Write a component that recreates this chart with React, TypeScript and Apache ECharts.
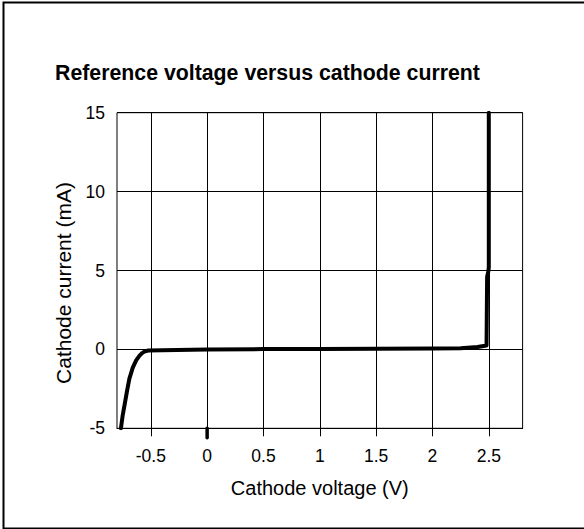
import React, { useEffect, useRef } from "react";
import * as echarts from "echarts";

const titleText = "Reference voltage versus cathode current";
const xName = "Cathode voltage (V)";
const yName = "Cathode current (mA)";

const xTicks = [-0.5, 0, 0.5, 1, 1.5, 2, 2.5];
const yTicks = [-5, 0, 5, 10, 15];

const voltage = [-0.765, -0.75, -0.73, -0.71, -0.69, -0.66, -0.63, -0.6, -0.575, -0.55, -0.52, -0.4, 0, 0.5, 1, 1.5, 2, 2.25, 2.4, 2.48, 2.485, 2.495, 2.5, 2.5];
const current = [-5, -4.2, -3.4, -2.6, -1.85, -1.15, -0.7, -0.4, -0.22, -0.12, -0.07, -0.05, 0, 0.02, 0.03, 0.04, 0.06, 0.08, 0.15, 0.25, 4.6, 4.9, 5.2, 15];

const blipVoltage = [0, 0];
const blipCurrent = [-5, -5.6];

const FONT = "'Liberation Sans', Arial, sans-serif";

export default function App() {
  const ref = useRef<HTMLDivElement>(null);
  useEffect(() => {
    if (!ref.current) return;
    const chart = echarts.init(ref.current, null, { renderer: "svg" });
    const mainData = voltage.map((v, i) => [v, current[i]]);
    const blipData = blipVoltage.map((v, i) => [v, blipCurrent[i]]);
    chart.setOption({
      animation: false,
      backgroundColor: "#fff",
      textStyle: { fontFamily: FONT },
      title: {
        text: titleText,
        left: 50,
        top: 57,
        textStyle: { fontSize: 21.3, fontWeight: "bold", color: "#000", fontFamily: FONT },
      },
      graphic: [
        {
          type: "rect",
          shape: { x: 3.5, y: 2.5, width: 600, height: 526 },
          style: { fill: "none", stroke: "#000", lineWidth: 2 },
          silent: true,
        },
        {
          type: "text",
          x: 63.5,
          y: 283,
          rotation: Math.PI / 2,
          silent: true,
          style: {
            text: yName,
            fill: "#000",
            font: "21px 'Liberation Sans', Arial, sans-serif",
            align: "center",
            verticalAlign: "middle",
          },
        },
      ],
      grid: {
        left: 117,
        top: 112.7,
        width: 405.6,
        height: 315.6,
        show: true,
        borderColor: "#000",
        borderWidth: 1,
        containLabel: false,
      },
      xAxis: {
        type: "value",
        min: -0.8,
        max: 2.8,
        splitNumber: 7,
        name: xName,
        nameLocation: "middle",
        nameGap: 50,
        nameTextStyle: { fontSize: 20, color: "#000", fontFamily: FONT },
        axisLine: { show: true, onZero: false, lineStyle: { color: "#000", width: 1 } },
        axisTick: { show: true, length: 8, customValues: xTicks, lineStyle: { color: "#000", width: 1 } },
        axisLabel: {
          customValues: xTicks,
          margin: 19,
          fontSize: 17.5,
          color: "#000",
          fontFamily: FONT,
        },
        splitLine: { show: true, lineStyle: { color: "#000", width: 1 } },
      },
      yAxis: {
        type: "value",
        min: -5,
        max: 15,
        interval: 5,
        axisLine: { show: true, lineStyle: { color: "#000", width: 1 } },
        axisTick: { show: false },
        axisLabel: { margin: 12, fontSize: 17.5, color: "#000", fontFamily: FONT },
        splitLine: { show: true, lineStyle: { color: "#000", width: 1 } },
      },
      series: [
        {
          type: "line",
          data: mainData,
          showSymbol: false,
          symbol: "none",
          lineStyle: { color: "#000", width: 4, cap: "round", join: "round" },
          itemStyle: { color: "#000" },
        },
        {
          type: "line",
          data: blipData,
          showSymbol: false,
          symbol: "none",
          clip: false,
          lineStyle: { color: "#000", width: 3.5, cap: "round" },
          itemStyle: { color: "#000" },
        },
      ],
    });
    return () => chart.dispose();
  }, []);
  return (
    <div
      ref={ref}
      style={{ position: "fixed", left: 0, top: 0, width: 584, height: 529 }}
    />
  );
}
